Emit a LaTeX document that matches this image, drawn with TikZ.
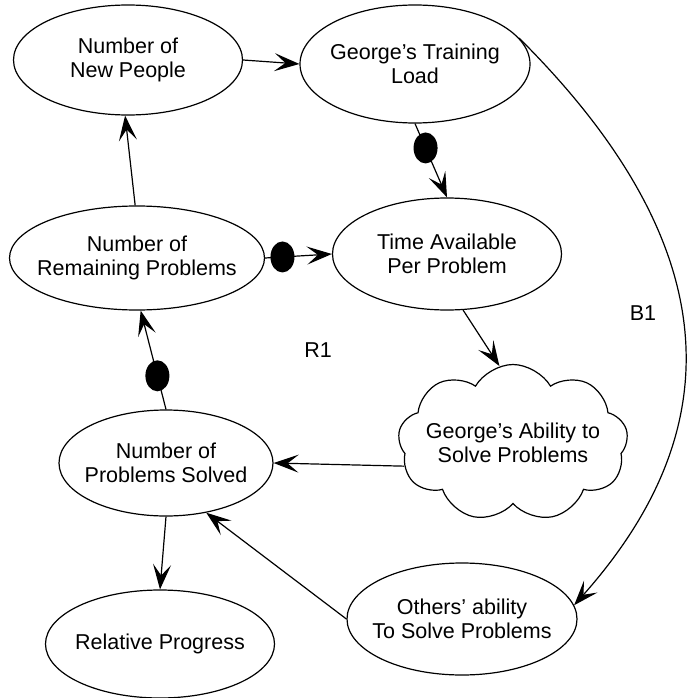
\documentclass[tikz,border=0pt]{standalone}
\usepackage{fontspec}
\setmainfont{Liberation Sans}
\usetikzlibrary{shapes.geometric,shapes.symbols,arrows.meta}
\begin{document}
\begin{tikzpicture}[x=1pt,y=-1pt,
  txt/.style={font=\fontsize{21.5}{24}\selectfont},
  var/.style={ellipse,draw,line width=1.2pt,inner sep=0pt},
  blob/.style={cloud,draw,cloud puffs=9,cloud puff arc=120,aspect=1.47,
    line width=1.2pt,inner sep=0pt},
  caption/.style={label={[txt,align=center]center:#1}},
  link/.style={line width=1.2pt,-{Stealth[length=25pt,width=18pt,inset=11pt]}},
  neg/.style={ellipse,fill=black,minimum width=24pt,minimum height=31pt,inner sep=0pt}]
\useasboundingbox (0,0) rectangle (687,698);
\fill[white] (0,0) rectangle (687,698);

% variables
\node[var,minimum width=229pt,minimum height=110pt,caption={Number of\\New People}] (np) at (128,60) {};
\node[var,minimum width=230pt,minimum height=118pt,caption={George's Training\\Load}] (tl) at (415,64) {};
\node[var,minimum width=255pt,minimum height=104pt,caption={Number of\\Remaining Problems}] (rem) at (137,258) {};
\node[var,minimum width=229pt,minimum height=112pt,caption={Time Available\\Per Problem}] (time) at (447,254) {};
\node[blob,minimum width=230pt,minimum height=157pt,caption={George's Ability to\\Solve Problems}] (abil) at (513,443) {};
\node[var,minimum width=214pt,minimum height=106pt,caption={Number of\\Problems Solved}] (ps) at (166,463) {};
\node[var,minimum width=229pt,minimum height=108pt,caption={Relative Progress}] (rp) at (160,644) {};
\node[var,minimum width=230pt,minimum height=112pt,caption={Others' ability\\To Solve Problems}] (oth) at (462,619) {};

% loop labels
\node[txt] (r1) at (318,350) {R1};
\node[txt] (b1) at (643,313) {B1};

% links
\draw[link] (np.east) -- (tl.west);
\draw[link] (tl.south) -- node[neg,pos=0.33] {} (time.north);
\draw[link] (rem.east) -- node[neg,pos=0.26] {} (time.west);
\draw[link] (rem.92) -- (np.-93);
\draw[link] (time.-74) -- (abil.100);
\draw[link] (abil.192) -- (ps.east);
\draw[link] (ps.north) -- node[neg,pos=0.34] {} (rem.-86);
\draw[link] (ps.south) -- (rp.north);
\draw[link] (oth.west) -- (ps.-51);
\draw[link] (tl.14) .. controls (750,268) and (712,450) .. (oth.7);
\end{tikzpicture}
\end{document}
